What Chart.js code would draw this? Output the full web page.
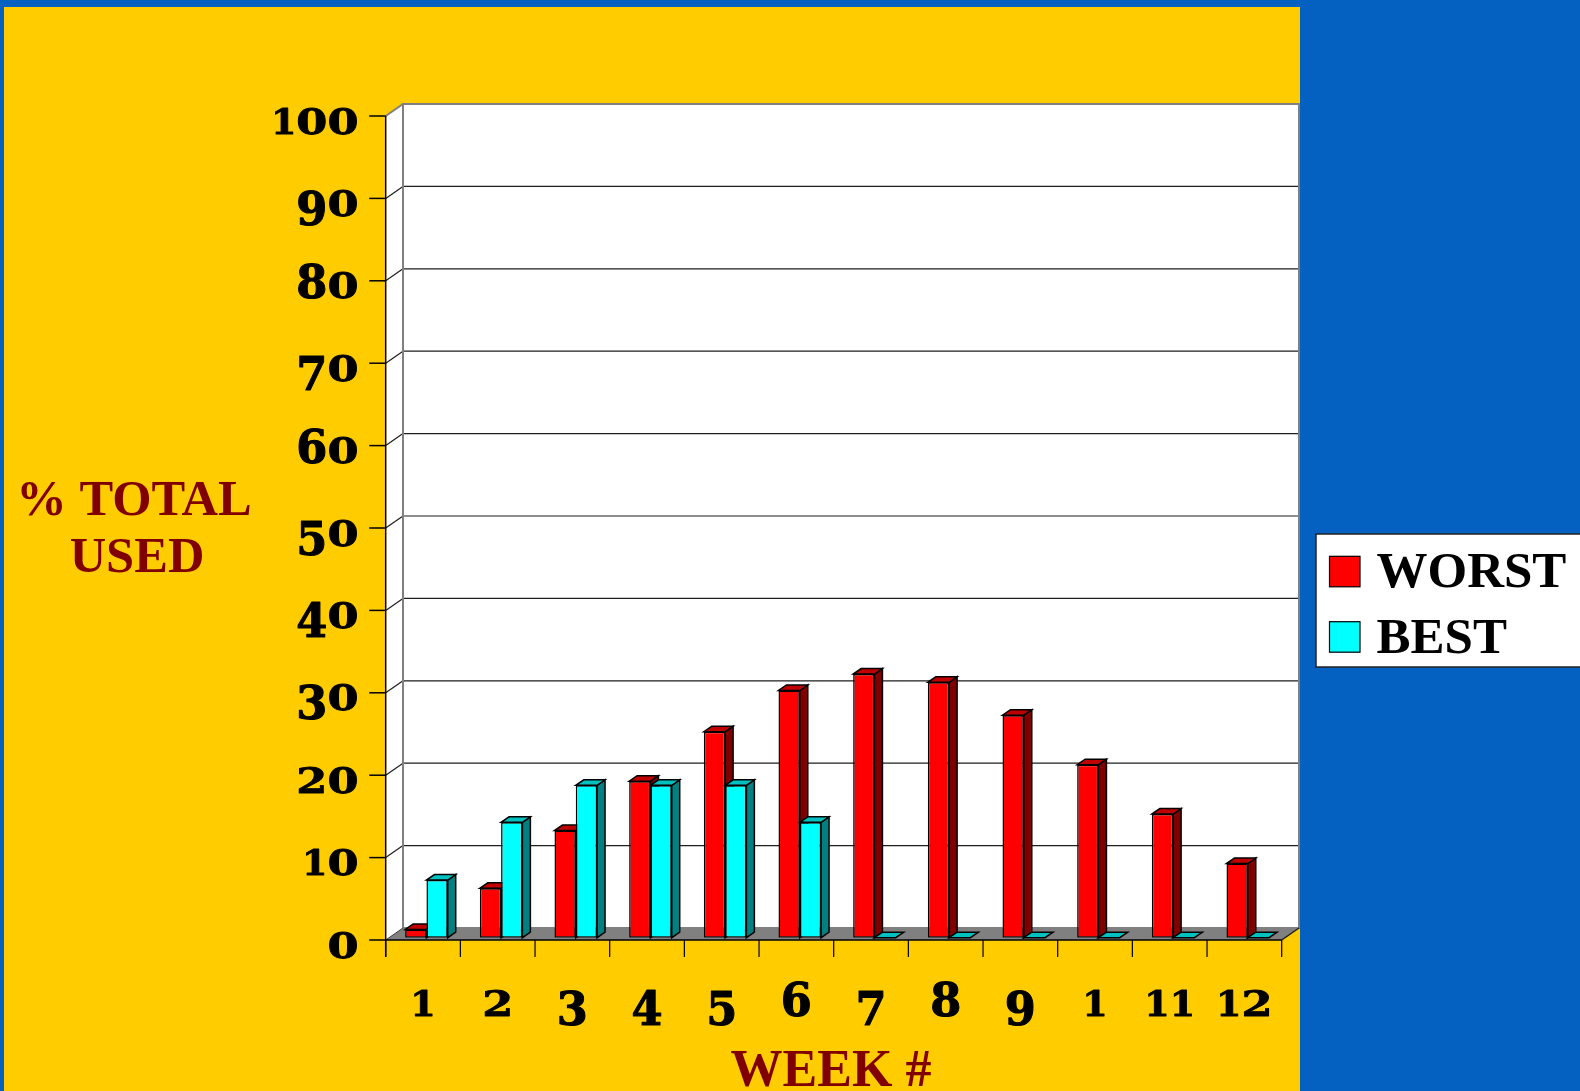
<!DOCTYPE html>
<html>
<head>
<meta charset="utf-8">
<title>% Total Used by Week</title>
<script src="https://cdn.jsdelivr.net/npm/chart.js@4.4.1/dist/chart.umd.min.js"></script>
<style>
  html, body { margin: 0; padding: 0; background: #0461C1; }
  #wrap { width: 1580px; height: 1091px; }
  canvas { display: block; }
</style>
</head>
<body>
<div id="wrap"><canvas id="chart" width="1580" height="1091"></canvas></div>
<script>
// Week numbers along the floor of the chart
const categories = ['1', '2', '3', '4', '5', '6', '7', '8', '9', '1', '11', '12'];
// Percentage of the total used each week
const worstValues = [1, 6, 13, 19, 25, 30, 32, 31, 27, 21, 15, 9];
const bestValues = [7, 14, 18.5, 18.5, 18.5, 14, 0, 0, 0, 0, 0, 0];
const seriesNames = ['WORST', 'BEST'];
// Value axis ticks
const yTickValues = [0, 10, 20, 30, 40, 50, 60, 70, 80, 90, 100];
const yAxisTitle = ['% TOTAL', 'USED'];
const xAxisTitle = 'WEEK #';

// Face colours for each series: front, side, top
const palette = [
  { front: '#FF0000', side: '#800000', top: '#C00000' },
  { front: '#00FFFF', side: '#008080', top: '#00C0C0' }
];

// Box geometry: offsets from the bar plane to the front/back planes, bar depth
const geo = { fx: -3.4, fy: 2.3, bx: 13.9, by: -9.7, dx: 8, dy: 5.5 };

function poly(ctx, pts, fill, stroke, lw) {
  ctx.beginPath();
  ctx.moveTo(pts[0][0], pts[0][1]);
  for (let i = 1; i < pts.length; i++) ctx.lineTo(pts[i][0], pts[i][1]);
  ctx.closePath();
  if (fill) { ctx.fillStyle = fill; ctx.fill(); }
  if (stroke) { ctx.strokeStyle = stroke; ctx.lineWidth = lw || 1; ctx.stroke(); }
}

function line(ctx, x1, y1, x2, y2, color, lw) {
  ctx.beginPath();
  ctx.moveTo(x1, y1);
  ctx.lineTo(x2, y2);
  ctx.strokeStyle = color;
  ctx.lineWidth = lw || 1;
  ctx.stroke();
}

// Numbers drawn with old-style figures: 0 1 2 sit at x-height,
// 6 8 rise above it, 3 4 5 7 9 drop below the baseline.
function digitStyle(ch) {
  if ('012'.includes(ch)) return { sy: 0.74, shift: 0 };
  if ('34579'.includes(ch)) return { sy: 1, shift: 9 };
  return { sy: 1, shift: 0 };
}
function drawFigures(ctx, text, x, baseline, align) {
  ctx.save();
  ctx.font = 'bold 47px "DejaVu Serif"';
  ctx.fillStyle = '#000';
  ctx.strokeStyle = '#000';
  ctx.lineWidth = 1.1;
  ctx.lineJoin = 'round';
  ctx.textAlign = 'left';
  ctx.textBaseline = 'alphabetic';
  const SX = 0.95;
  const oneSX = 0.82;
  const chars = text.split('');
  const widths = chars.map(ch => ctx.measureText(ch).width * SX * (ch === '1' ? oneSX : 1));
  const total = widths.reduce((a, b) => a + b, 0);
  let cx = align === 'right' ? x - total : x - total / 2;
  chars.forEach((ch, i) => {
    const st = digitStyle(ch);
    ctx.save();
    ctx.translate(cx, baseline + st.shift);
    ctx.scale(SX * (ch === '1' ? oneSX : 1), st.sy);
    ctx.fillText(ch, 0, 0);
    ctx.strokeText(ch, 0, 0);
    ctx.restore();
    cx += widths[i];
  });
  ctx.restore();
}

const boxPlugin = {
  id: 'box3d',
  beforeDraw(chart) {
    const ctx = chart.ctx;
    ctx.save();
    ctx.fillStyle = '#0461C1';
    ctx.fillRect(0, 0, chart.width, chart.height);
    ctx.fillStyle = '#FFCC00';
    ctx.fillRect(4, 7, 1296, chart.height - 7);
    ctx.restore();
  },
  beforeDatasetsDraw(chart) {
    const ctx = chart.ctx;
    const { left, right } = chart.chartArea;
    const ys = chart.scales.y;
    const xs = chart.scales.x;
    const y0 = ys.getPixelForValue(0);
    const yTop = ys.getPixelForValue(100);
    const FL = left + geo.fx, FR = right + geo.fx;
    const BL = left + geo.bx, BR = right + geo.bx;
    ctx.save();

    // back wall and left wall
    ctx.fillStyle = '#FFFFFF';
    ctx.fillRect(BL, yTop + geo.by, BR - BL, y0 - yTop);
    poly(ctx, [[FL, yTop + geo.fy], [BL, yTop + geo.by], [BL, y0 + geo.by], [FL, y0 + geo.fy]], '#FFFFFF');

    // floor
    poly(ctx, [[FL, y0 + geo.fy], [FR, y0 + geo.fy], [BR, y0 + geo.by], [BL, y0 + geo.by]], '#808080');

    // gridlines on back and left walls
    yTickValues.forEach(v => {
      if (v === 0 || v === 100) return;
      const y = ys.getPixelForValue(v);
      line(ctx, BL, y + geo.by, BR, y + geo.by, '#1E1E1E', 1.2);
      line(ctx, FL, y + geo.fy, BL, y + geo.by, '#1E1E1E', 1.2);
    });

    // wall outlines
    ctx.strokeStyle = '#808080';
    ctx.lineWidth = 2;
    ctx.strokeRect(BL, yTop + geo.by, BR - BL, y0 - yTop);
    line(ctx, FL, yTop + geo.fy, BL, yTop + geo.by, '#808080', 2);
    line(ctx, FL, y0 + geo.fy, BL, y0 + geo.by, '#404040', 1);
    line(ctx, FR, y0 + geo.fy, BR, y0 + geo.by, '#202020', 1.5);

    // value axis with its ticks
    line(ctx, FL, yTop + geo.fy, FL, y0 + geo.fy + 17, '#000', 1.5);
    yTickValues.forEach(v => {
      const y = ys.getPixelForValue(v) + geo.fy;
      line(ctx, FL - 16.5, y, FL, y, '#000', 1.5);
    });

    // category axis with its ticks
    line(ctx, FL, y0 + geo.fy, FR, y0 + geo.fy, '#000', 1.5);
    const catW = (xs.right - xs.left) / categories.length;
    for (let i = 0; i <= categories.length; i++) {
      const x = xs.left + i * catW + geo.fx;
      line(ctx, x, y0 + geo.fy, x, y0 + geo.fy + 17, '#000', 1.2);
    }

    // side and top faces of the bars
    for (let i = 0; i < categories.length; i++) {
      for (let d = 0; d < chart.data.datasets.length; d++) {
        const el = chart.getDatasetMeta(d).data[i];
        const p = el.getProps(['x', 'y', 'base', 'width'], true);
        const x0 = p.x - p.width / 2, x1 = p.x + p.width / 2;
        const yt = Math.min(p.y, p.base), yb = Math.max(p.y, p.base);
        const c = palette[d];
        if (yb - yt > 0.5) {
          poly(ctx, [[x1, yt], [x1 + geo.dx, yt - geo.dy], [x1 + geo.dx, yb - geo.dy], [x1, yb]], c.side, '#000', 1.5);
        }
        poly(ctx, [[x0, yt], [x1, yt], [x1 + geo.dx, yt - geo.dy], [x0 + geo.dx, yt - geo.dy]], c.top, '#000', 1.5);
      }
    }
    ctx.restore();
  },
  afterDraw(chart) {
    const ctx = chart.ctx;
    const ys = chart.scales.y;
    const xs = chart.scales.x;
    ctx.save();

    // tick labels
    yTickValues.forEach(v => {
      const y = ys.getPixelForValue(v) + geo.fy;
      drawFigures(ctx, String(v), 358.5, y + 17.5, 'right');
    });
    categories.forEach((lab, i) => {
      const x = xs.getPixelForValue(i) + geo.fx;
      drawFigures(ctx, lab, x, 1016, 'center');
    });

    // axis titles
    ctx.fillStyle = '#800000';
    ctx.font = 'bold 50.5px "Liberation Serif"';
    ctx.textAlign = 'center';
    ctx.textBaseline = 'alphabetic';
    ctx.fillText(yAxisTitle[0], 134, 515);
    ctx.fillText(yAxisTitle[1], 137, 571.5);
    ctx.font = 'bold 52px "Liberation Serif"';
    ctx.fillText(xAxisTitle, 831, 1086);

    // legend
    ctx.fillStyle = '#FFFFFF';
    ctx.fillRect(1316, 534, 280, 133);
    ctx.strokeStyle = '#222';
    ctx.lineWidth = 1.5;
    ctx.strokeRect(1316, 534, 280, 133);
    const rows = [587.3, 652.7];
    seriesNames.forEach((name, d) => {
      const base = rows[d];
      ctx.fillStyle = palette[d].front;
      ctx.fillRect(1329.5, base - 31, 30.5, 30.5);
      ctx.strokeStyle = '#000';
      ctx.lineWidth = 1.2;
      ctx.strokeRect(1329.5, base - 31, 30.5, 30.5);
      ctx.fillStyle = '#000';
      ctx.font = 'bold 51px "Liberation Serif"';
      ctx.textAlign = 'left';
      ctx.fillText(name, 1376.5, base);
    });
    ctx.restore();
  }
};

new Chart(document.getElementById('chart'), {
  type: 'bar',
  data: {
    labels: categories,
    datasets: [
      {
        label: seriesNames[0],
        data: worstValues,
        backgroundColor: palette[0].front,
        borderColor: '#000',
        borderWidth: 1.5,
        borderSkipped: false,
        barPercentage: 1.0,
        categoryPercentage: 0.57
      },
      {
        label: seriesNames[1],
        data: bestValues,
        backgroundColor: palette[1].front,
        borderColor: '#000',
        borderWidth: 1.5,
        borderSkipped: false,
        barPercentage: 1.0,
        categoryPercentage: 0.57
      }
    ]
  },
  options: {
    responsive: false,
    animation: false,
    devicePixelRatio: 1,
    layout: { padding: { left: 389.1, right: 294.9, top: 113.7, bottom: 153.3 } },
    plugins: { legend: { display: false }, tooltip: { enabled: false } },
    scales: {
      x: { display: false, offset: true },
      y: { display: false, min: 0, max: 100, ticks: { stepSize: 10 } }
    }
  },
  plugins: [boxPlugin]
});
</script>
</body>
</html>
